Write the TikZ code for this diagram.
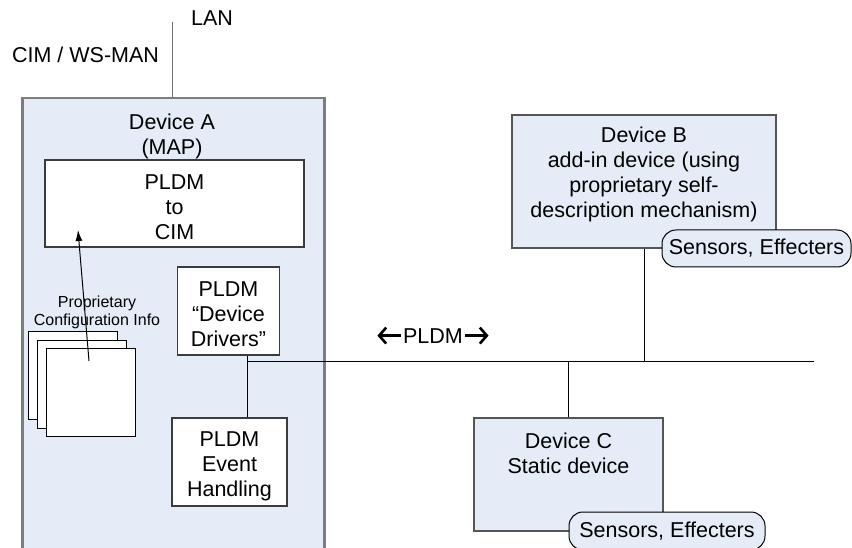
\documentclass[tikz,border=0pt]{standalone}
\usepackage{fontspec}
\setmainfont{Liberation Sans}
\usetikzlibrary{arrows.meta}
\definecolor{devfill}{RGB}{229,236,247}
\definecolor{frameA}{RGB}{125,125,125}
\definecolor{frameB}{RGB}{85,85,85}
\definecolor{boxline}{RGB}{60,60,60}
\definecolor{lanline}{RGB}{110,110,110}
\newcommand{\topstrut}[1]{\rule{0pt}{#1}}
\begin{document}
\begin{tikzpicture}[x=1pt,y=-1pt,
  every node/.style={font=\fontsize{21.5pt}{25pt}\selectfont, inner sep=0pt},
  devbox/.style={draw=frameB, line width=1.5pt, fill=devfill},
  devAbox/.style={draw=frameA, line width=2.5pt, fill=devfill},
  wbox/.style={draw=boxline, line width=1.2pt, fill=white, align=center},
  page/.style={draw=black, line width=1pt, fill=white, minimum width=89pt, minimum height=88pt},
  pill/.style={draw=black, line width=1pt, fill=devfill, rounded corners=14pt},
  wire/.style={draw=black, line width=1pt},
  chev/.style={draw=black, line width=2.6pt, -{Straight Barb[length=7pt,width=16pt]}},
  title/.style={align=center, anchor=north}
]
\useasboundingbox (0,0) rectangle (852,548);
\clip (0,0) rectangle (852,548);

% Device A
\node[devAbox, anchor=north west, minimum width=302pt, minimum height=480pt] (devA) at (21,97) {};
\coordinate (lanTop) at (172,22);
\draw[draw=lanline, line width=1pt] (lanTop) -- (lanTop |- devA.north);
\node[anchor=base] (lan) at (212,26) {LAN};
\node[anchor=base] (cimws) at (85.5,63) {CIM / WS-MAN};
\node[title] (titleA) at (172,114) {Device A\\(MAP)};

\node[wbox, minimum width=259pt, minimum height=87pt] (cim) at (174.5,203.5) {\topstrut{23pt}PLDM\\to\\CIM};
\node[wbox, minimum width=102pt, minimum height=88pt] (dd) at (228.5,311) {\topstrut{22pt}PLDM\\“Device\\Drivers”};
\node[wbox, minimum width=115pt, minimum height=88pt] (ev) at (229.5,462) {\topstrut{24pt}PLDM\\Event\\Handling};

% configuration pages
\node[page] (pg1) at (72.5,375) {};
\node[page] (pg2) at (81.5,384) {};
\node[page] (pg3) at (90.5,392.5) {};
\node[align=center, anchor=north, font=\fontsize{16pt}{18pt}\selectfont] (cfgtext) at (97,295.5) {Proprietary\\Configuration Info};
\coordinate (cfgA) at (89,361);
\coordinate (cfgB) at (78,230);
\draw[wire, -{Latex[length=11pt,width=7pt]}] (cfgA) -- (cfgB);

% bus
\coordinate (busL) at (247,361);
\coordinate (busR) at (814,361);
\draw[wire] (busL |- dd.south) -- (busL |- ev.north);
\draw[wire] (busL) -- (busR);

\node[anchor=base] (pldm) at (433,343) {PLDM};
\draw[chev] ([xshift=-1.5pt]pldm.west) -- ++(-24,0);
\draw[chev] ([xshift=1.5pt]pldm.east) -- ++(24,0);

% Device B
\node[devbox, minimum width=264pt, minimum height=133pt] (devB) at (644,181.5) {};
\node[title] (titleB) at (644,127) {Device B\\add-in device (using\\proprietary self-\\description mechanism)};
\node[pill, minimum width=189pt, minimum height=37pt] (sensB) at (756.5,248.5) {Sensors, Effecters};
\draw[wire] (devB.south) -- (devB.south |- busR);

% Device C
\node[devbox, minimum width=189pt, minimum height=113pt] (devC) at (568.5,474.5) {};
\node[title] (titleC) at (568.5,433) {Device C\\Static device};
\node[pill, minimum width=196pt, minimum height=38pt] (sensC) at (667,531) {Sensors, Effecters};
\draw[wire] (devC.north) -- (devC.north |- busR);
\end{tikzpicture}
\end{document}
